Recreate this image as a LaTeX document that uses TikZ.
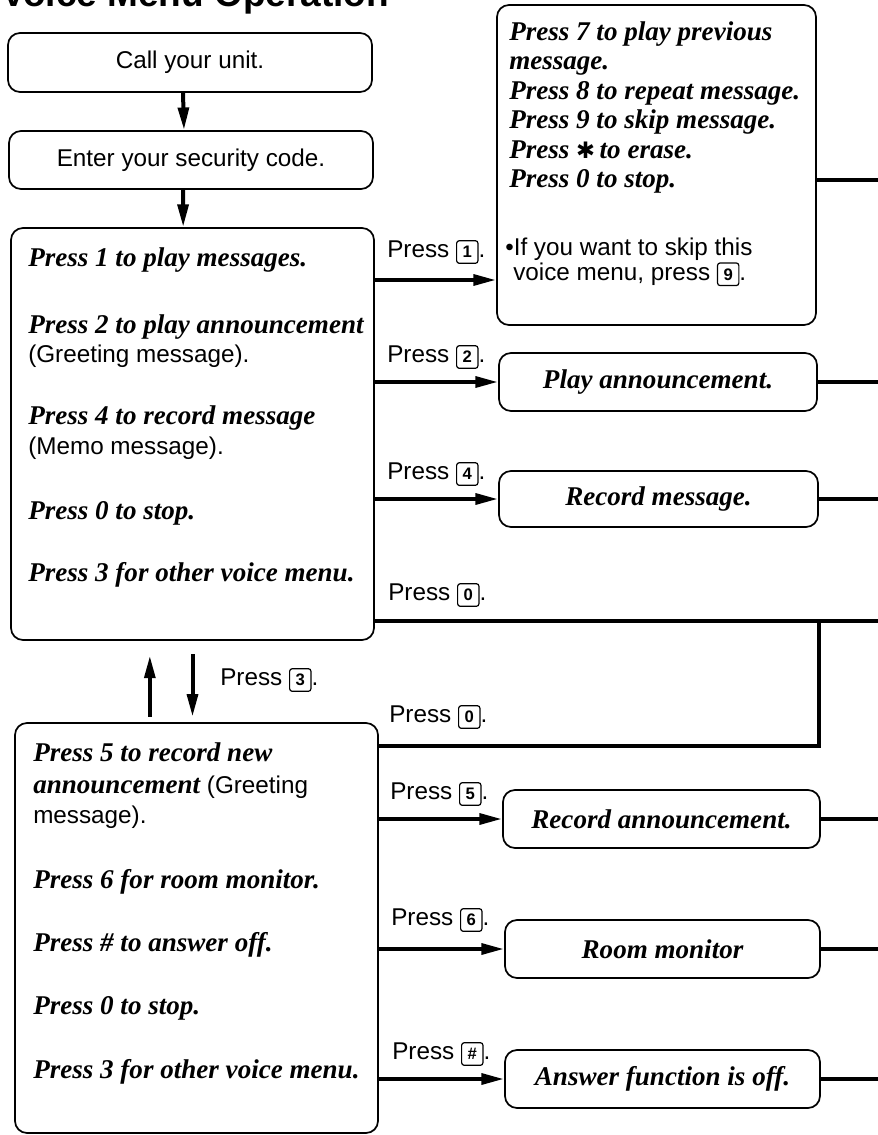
\documentclass[tikz,border=0pt]{standalone}
\usepackage{fontspec}
\setmainfont{Liberation Sans}
\newfontfamily\tnr{Liberation Serif}
\newfontfamily\dejavu{DejaVu Sans}
\usepackage{tikz}
\usetikzlibrary{calc}
\usetikzlibrary{positioning}
\usetikzlibrary{arrows.meta}

\newcommand{\sanstext}{\fontsize{18.2}{21}\selectfont}
\newcommand{\bitext}{\tnr\bfseries\itshape\fontsize{20.3}{23}\selectfont}
\newcommand{\keybox}[1]{\tikz[baseline=(kb.base)]\node[draw,line width=0.9pt,rounded corners=2pt,inner sep=0pt,minimum width=16pt,minimum height=17pt,font=\bfseries\fontsize{12.5}{12.5}\selectfont] (kb) {#1};}

\begin{document}
\begin{tikzpicture}[x=0.75pt,y=0.75pt,yscale=-1,xscale=1,
    menubox/.style={draw,line width=1.3pt,rounded corners=9pt,inner sep=0pt},
    arr/.style={line width=3pt,-{Triangle[length=17pt,width=8pt]}},
    conn/.style={line width=3pt},
    lbl/.style={anchor=west,inner sep=0.75pt,font=\sanstext},
    sn/.style={anchor=base west,inner sep=0.75pt,font=\sanstext},
    bi/.style={anchor=base west,inner sep=0.75pt,font=\bitext}]

        \useasboundingbox (0,0) rectangle (878,1135);

        % Title (cut by the top edge)
        \draw (1,7) node [anchor=base west,inner sep=0pt,font=\bfseries\fontsize{27.75}{30}\selectfont] (title) {Voice Menu Operation};

        %Shape: Rounded Rect
        \node [menubox,minimum width=273pt,minimum height=44.25pt,font=\sanstext] (call) at (190,62.5) {Call your unit.};
        %Shape: Rounded Rect
        \node [menubox,minimum width=273pt,minimum height=43.5pt,font=\sanstext] (code) at (191,160) {Enter your security code.};
        %Shape: Rounded Rect
        \node [menubox,minimum width=272.25pt,minimum height=309pt] (menuA) at (192.5,434) {};
        %Shape: Rounded Rect
        \node [menubox,minimum width=272.25pt,minimum height=307.5pt] (menuB) at (196.5,928) {};
        %Shape: Rounded Rect
        \node [menubox,minimum width=239.25pt,minimum height=240pt] (playbox) at (656.5,165) {};
        %Shape: Rounded Rect
        \node [menubox,minimum width=238.5pt,minimum height=43.5pt,font=\bitext] (annc) at (658,382) {Play announcement.};
        %Shape: Rounded Rect
        \node [menubox,minimum width=239.25pt,minimum height=42pt,font=\bitext] (recmsg) at (658.5,499) {Record message.};
        %Shape: Rounded Rect
        \node [menubox,minimum width=237.75pt,minimum height=43.5pt,font=\bitext] (recann) at (661.5,819) {Record announcement.};
        %Shape: Rounded Rect
        \node [menubox,minimum width=236.25pt,minimum height=43.5pt,font=\bitext] (monitor) at (662.5,949) {Room monitor};
        %Shape: Rounded Rect
        \node [menubox,minimum width=236.25pt,minimum height=43.5pt,font=\bitext] (ansoff) at (662.5,1079) {Answer function is off.};

        % rows of the connectors
        \coordinate (edge) at (878,0);
        \coordinate (x1) at (0,180);
        \coordinate (r1) at (0,280);
        \coordinate (r0) at (0,621);
        \coordinate (r0b) at (0,746);
        \coordinate (joint) at (819,621);
        \coordinate (upfoot) at ([xshift=-35pt]menuB.north);

        %Straight Lines
        \draw [arr] ([xshift=-5.25pt]call.south) -- ([xshift=-5.25pt]code.north);
        \draw [arr] ([xshift=-6pt]code.south) -- ([xshift=-7pt]menuA.north);
        %Straight Lines
        \draw [arr] (menuA.east |- r1) -- (playbox.west |- r1);
        \draw [arr] (menuA.east |- annc.west) -- (annc.west);
        \draw [arr] (menuA.east |- recmsg.west) -- (recmsg.west);
        \draw [conn] (menuA.east |- r0) -- (edge |- r0);
        %Straight Lines
        \draw [arr,shorten <=10pt,shorten >=4pt] (menuA.south) -- (menuA.south |- menuB.north);
        \draw [arr,shorten <=4pt,shorten >=11pt] (upfoot) -- (upfoot |- menuA.south);
        %Straight Lines
        \draw [conn] (menuB.east |- r0b) -- (joint |- r0b) -- (joint);
        \draw [arr] (menuB.east |- recann.west) -- (recann.west);
        \draw [arr] (menuB.east |- monitor.west) -- (monitor.west);
        \draw [arr] (menuB.east |- ansoff.west) -- (ansoff.west);
        %Straight Lines
        \draw [conn] (playbox.east |- x1) -- (edge |- x1);
        \draw [conn] (annc.east) -- (edge |- annc.east);
        \draw [conn] (recmsg.east) -- (edge |- recmsg.east);
        \draw [conn] (recann.east) -- (edge |- recann.east);
        \draw [conn] (monitor.east) -- (edge |- monitor.east);
        \draw [conn] (ansoff.east) -- (edge |- ansoff.east);

        % Text Node
        \draw (27,266.5) node [bi] (a1) {Press 1 to play messages.};
        % Text Node
        \draw (27,333.5) node [bi] (a2) {Press 2 to play announcement};
        % Text Node
        \draw (27,362.5) node [sn] (a3) {(Greeting message).};
        % Text Node
        \draw (27,424.5) node [bi] (a4) {Press 4 to record message};
        % Text Node
        \draw (27,454.5) node [sn] (a5) {(Memo message).};
        % Text Node
        \draw (27,519.5) node [bi] (a6) {Press 0 to stop.};
        % Text Node
        \draw (27,581.5) node [bi] (a7) {Press 3 for other voice menu.};

        % Text Node
        \draw (32,761.5) node [bi] (b1) {Press 5 to record new};
        % Text Node
        \draw (32,793.5) node [sn] (b2) {{\bitext announcement} (Greeting};
        % Text Node
        \draw (32,823.5) node [sn] (b3) {message).};
        % Text Node
        \draw (32,888.5) node [bi] (b4) {Press 6 for room monitor.};
        % Text Node
        \draw (32,951.5) node [bi] (b5) {Press \# to answer off.};
        % Text Node
        \draw (32,1014.5) node [bi] (b6) {Press 0 to stop.};
        % Text Node
        \draw (32,1078.5) node [bi] (b7) {Press 3 for other voice menu.};

        % Text Node
        \draw (508,40) node [bi] (c1) {Press 7 to play previous};
        % Text Node
        \draw (508,69.5) node [bi] (c2) {message.};
        % Text Node
        \draw (508,99) node [bi] (c3) {Press 8 to repeat message.};
        % Text Node
        \draw (508,128.5) node [bi] (c4) {Press 9 to skip message.};
        % Text Node
        \draw (508,158) node [bi] (c5) {Press {\dejavu\bfseries\fontsize{17}{17}\selectfont ✱}\,to erase.};
        % Text Node
        \draw (508,187.5) node [bi] (c6) {Press 0 to stop.};
        % Text Node
        \draw (504,255) node [sn] (c7) {•If you want to skip this};
        % Text Node
        \draw (512,280) node [sn] (c8) {voice menu, press \keybox{9}.};

        % Text Node
        \draw (386,252) node [lbl] (p1) {Press \keybox{1}.};
        % Text Node
        \draw (386,357) node [lbl] (p2) {Press \keybox{2}.};
        % Text Node
        \draw (386,474) node [lbl] (p4) {Press \keybox{4}.};
        % Text Node
        \draw (387,595) node [lbl] (p0) {Press \keybox{0}.};
        % Text Node
        \draw (219,680) node [lbl] (p3) {Press \keybox{3}.};
        % Text Node
        \draw (388,717) node [lbl] (q0) {Press \keybox{0}.};
        % Text Node
        \draw (389,794) node [lbl] (p5) {Press \keybox{5}.};
        % Text Node
        \draw (390,920) node [lbl] (p6) {Press \keybox{6}.};
        % Text Node
        \draw (391,1054) node [lbl] (ph) {Press \keybox{\#}.};

\end{tikzpicture}
\end{document}
